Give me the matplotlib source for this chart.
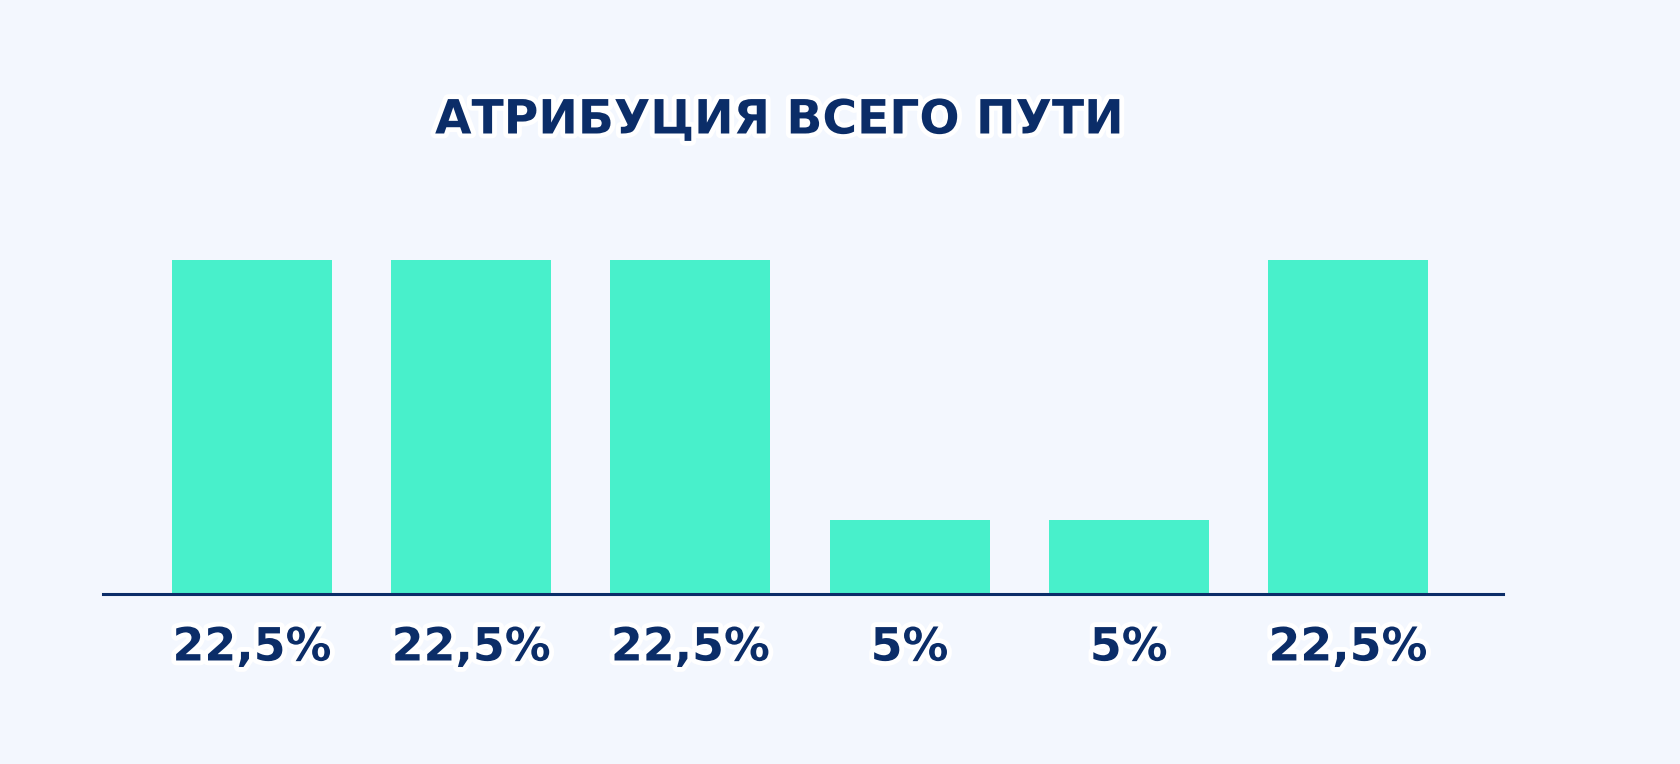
import matplotlib
matplotlib.use("Agg")
import matplotlib.pyplot as plt
import matplotlib.patheffects as pe
from matplotlib.transforms import blended_transform_factory

# data
channels = ["1", "2", "3", "4", "5", "6"]
shares = [22.5, 22.5, 22.5, 5, 5, 22.5]
labels = ["22,5%", "22,5%", "22,5%", "5%", "5%", "22,5%"]
title = "АТРИБУЦИЯ ВСЕГО ПУТИ"

bg = "#f3f7fe"
navy = "#0b2d68"
mint = "#48f0cb"

W, H = 1680, 764
fig = plt.figure(figsize=(W / 100, H / 100), dpi=100, facecolor=bg)

ax_bottom = (H - 594) / H
ax_h = 0.6
ax = fig.add_axes([103 / W, ax_bottom, 1400 / W, ax_h])
ax.set_facecolor(bg)

x = list(range(len(shares)))
ax.bar(x, shares, width=0.73, color=mint, zorder=2)
ax.set_xlim(-0.68, 5.707)
ax.set_ylim(0, 22.5 * (ax_h * H) / 334)

for s in ["top", "left", "right"]:
    ax.spines[s].set_visible(False)
ax.spines["bottom"].set_color(navy)
ax.spines["bottom"].set_linewidth(2.2)
ax.spines["bottom"].set_zorder(3)
ax.set_xticks([])
ax.set_yticks([])

outline = [pe.withStroke(linewidth=7, foreground="white")]

trans = blended_transform_factory(ax.transData, fig.transFigure)
for xi, lab in zip(x, labels):
    ax.text(xi, (H - 648) / H, lab, transform=trans, ha="center", va="center",
            fontsize=33, fontweight="bold", color=navy, path_effects=outline)

fig.text(780 / W, (H - 121) / H, title, ha="center", va="center",
         fontsize=34, fontweight="bold", color=navy, path_effects=outline)

fig.savefig("out.png", dpi=100, facecolor=bg)
